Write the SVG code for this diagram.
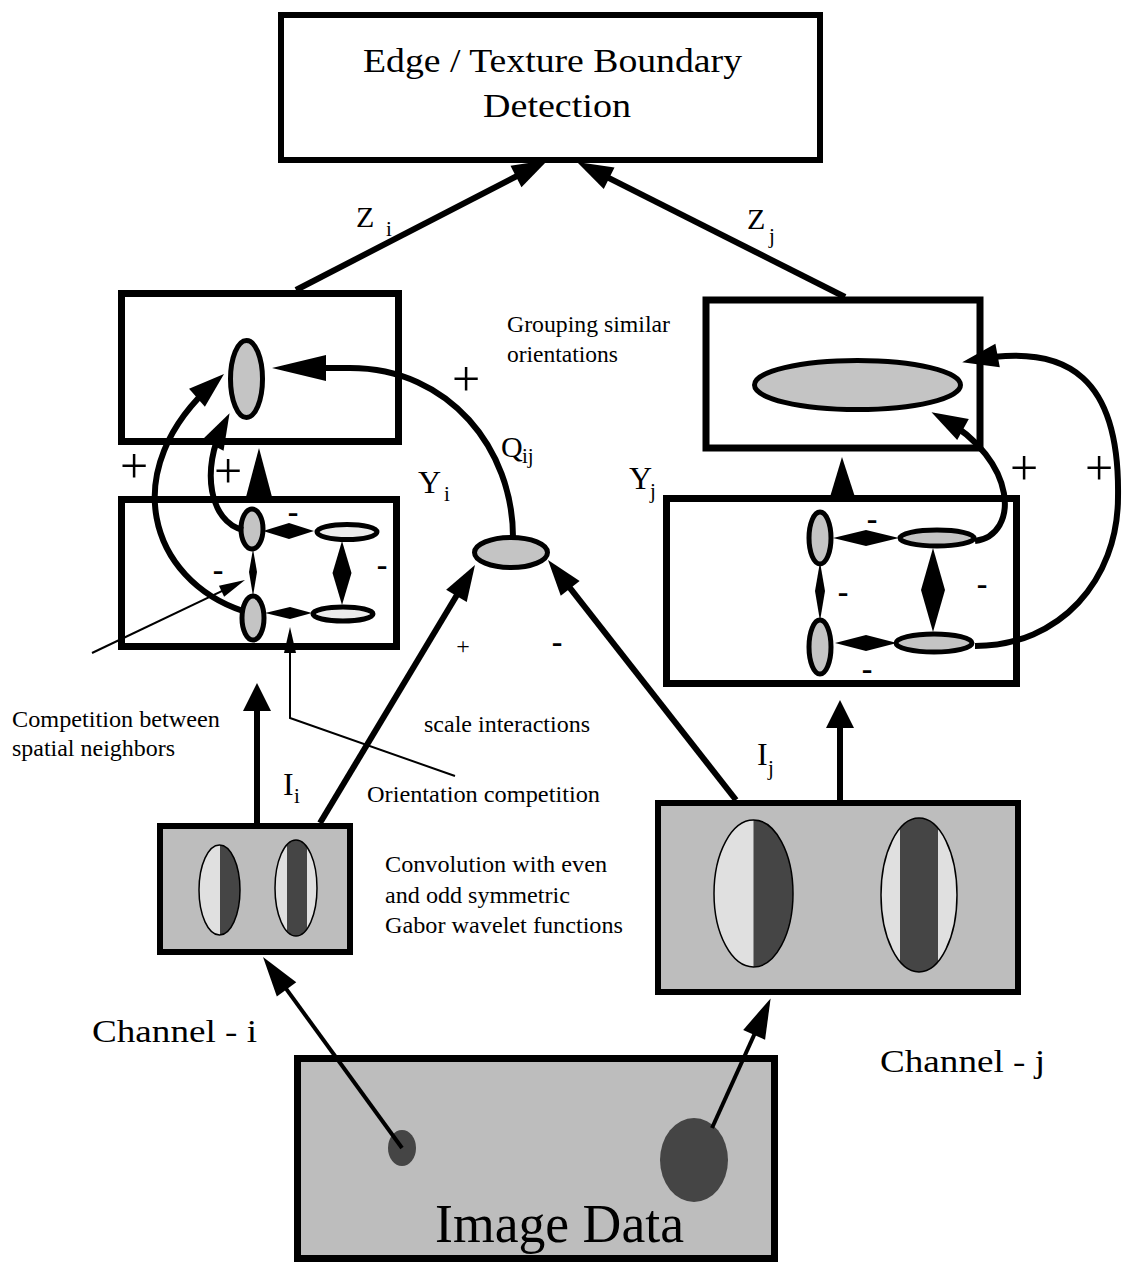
<svg xmlns="http://www.w3.org/2000/svg" width="1125" height="1265" viewBox="0 0 1125 1265">
<style>
text{font-family:"Liberation Serif","Times New Roman",serif;fill:#000}
.box{fill:#fff;stroke:#000;stroke-width:7}
.gbox{fill:#bdbdbd;stroke:#000;stroke-width:6}
.oval{fill:#c4c4c4;stroke:#000;stroke-width:5}
.ovalw{fill:#ececec;stroke:#000;stroke-width:5}
.conn{fill:none;stroke:#000;stroke-width:6}
.chan{fill:none;stroke:#000;stroke-width:4}
.thin{fill:none;stroke:#000;stroke-width:2}
.dia{fill:#000}
.light{fill:#e0e0e0}
.dark{fill:#454545}
.gout{fill:none;stroke:#000;stroke-width:1.5}
.lbl{font-size:24px}
.big{font-size:32px}
.sub{font-size:21px}
.plus{font-size:50px;text-anchor:middle}
.minus{font-size:32px;font-weight:bold;text-anchor:middle}
</style>
<defs>
<marker id="ah" viewBox="-30 -16 46 32" markerWidth="46" markerHeight="32" refX="0" refY="0" orient="auto" markerUnits="userSpaceOnUse"><path d="M12,0 L-24,-12 L-24,12 Z"/></marker>
<marker id="ahL" viewBox="-46 -16 62 32" markerWidth="62" markerHeight="32" refX="0" refY="0" orient="auto" markerUnits="userSpaceOnUse"><path d="M12,0 L-42,-13 L-42,13 Z"/></marker>
<marker id="ahI" viewBox="-20 -16 36 32" markerWidth="36" markerHeight="32" refX="0" refY="0" orient="auto" markerUnits="userSpaceOnUse"><path d="M12,0 L-16,-14 L-16,14 Z"/></marker>
<marker id="ahC" viewBox="-34 -14 48 28" markerWidth="48" markerHeight="28" refX="0" refY="0" orient="auto" markerUnits="userSpaceOnUse"><path d="M10,0 L-30,-12 L-30,12 Z"/></marker>
<marker id="ahS" viewBox="-24 -8 32 16" markerWidth="32" markerHeight="16" refX="0" refY="0" orient="auto" markerUnits="userSpaceOnUse"><path d="M6,0 L-20,-6 L-20,6 Z"/></marker>
<clipPath id="c1"><ellipse cx="219.5" cy="890" rx="20.5" ry="45"/></clipPath>
<clipPath id="c2"><ellipse cx="296" cy="888" rx="21" ry="48"/></clipPath>
<clipPath id="c3"><ellipse cx="753.5" cy="893.5" rx="39.5" ry="73.5"/></clipPath>
<clipPath id="c4"><ellipse cx="919" cy="895" rx="38" ry="77"/></clipPath>
</defs>

<g id="top-box">
<rect class="box" x="281" y="15" width="539" height="145" style="stroke-width:6"/>
<text x="363" y="72" style="font-size:34px" textLength="379" lengthAdjust="spacingAndGlyphs">Edge / Texture Boundary</text>
<text x="483" y="117" style="font-size:34px" textLength="148" lengthAdjust="spacingAndGlyphs">Detection</text>
</g>

<g id="left-group-box">
<rect class="box" x="121.5" y="293.5" width="277" height="148"/>
<ellipse class="oval" cx="246.5" cy="379" rx="16" ry="38.5"/>
</g>

<g id="left-comp-box">
<rect class="box" x="121.5" y="499.5" width="275" height="147"/>
<polygon class="dia" points="263,531 289,523 314,531 289,539"/>
<polygon class="dia" points="265,613 290,607 312,613 290,619"/>
<polygon class="dia" points="342,541 351.5,573 342,605 332.5,573"/>
<polygon class="dia" points="253,549 257,572 253,596 249,572"/>
<ellipse class="oval" cx="252" cy="529" rx="11" ry="20"/>
<ellipse class="oval" cx="253" cy="618" rx="11" ry="22"/>
<ellipse class="ovalw" cx="347" cy="532" rx="30" ry="7.5"/>
<ellipse class="ovalw" cx="343" cy="614" rx="30" ry="7"/>
<text class="minus" x="293" y="522">-</text>
<text class="minus" x="382" y="575">-</text>
<text class="minus" x="218" y="580">-</text>
</g>

<g id="right-group-box">
<rect class="box" x="706" y="300" width="274" height="148"/>
<ellipse class="oval" cx="857.5" cy="385" rx="103" ry="24.5"/>
</g>

<g id="right-comp-box">
<rect class="box" x="666.5" y="498.5" width="350" height="185"/>
<polygon class="dia" points="833,538 866,530 899,538 866,546"/>
<polygon class="dia" points="835,643 866,635 897,643 866,651"/>
<polygon class="dia" points="933,548 945,590 933,632 921,590"/>
<polygon class="dia" points="820,562 825,591 820,621 815,591"/>
<ellipse class="oval" cx="820" cy="538" rx="11" ry="26"/>
<ellipse class="oval" cx="820" cy="647" rx="11" ry="27"/>
<ellipse class="oval" cx="937" cy="538" rx="37" ry="8"/>
<ellipse class="oval" cx="934" cy="643" rx="38" ry="9"/>
<text class="minus" x="872" y="529">-</text>
<text class="minus" x="843" y="602">-</text>
<text class="minus" x="982" y="594">-</text>
<text class="minus" x="867" y="679">-</text>
</g>

<g id="q-node">
<ellipse class="oval" cx="511" cy="552.5" rx="36.5" ry="15"/>
</g>

<g id="left-gabor">
<rect class="gbox" x="160" y="826" width="190" height="126"/>
<ellipse class="light" cx="219.5" cy="890" rx="20.5" ry="45"/>
<rect class="dark" x="220" y="845" width="21" height="90" clip-path="url(#c1)"/>
<ellipse class="gout" cx="219.5" cy="890" rx="20.5" ry="45"/>
<ellipse class="light" cx="296" cy="888" rx="21" ry="48"/>
<rect class="dark" x="287" y="840" width="20" height="96" clip-path="url(#c2)"/>
<ellipse class="gout" cx="296" cy="888" rx="21" ry="48"/>
</g>

<g id="right-gabor">
<rect class="gbox" x="658" y="803" width="360" height="189"/>
<ellipse class="light" cx="753.5" cy="893.5" rx="39.5" ry="73.5"/>
<rect class="dark" x="753.5" y="820" width="40" height="148" clip-path="url(#c3)"/>
<ellipse class="gout" cx="753.5" cy="893.5" rx="39.5" ry="73.5"/>
<ellipse class="light" cx="919" cy="895" rx="38" ry="77"/>
<rect class="dark" x="900" y="818" width="38" height="154" clip-path="url(#c4)"/>
<ellipse class="gout" cx="919" cy="895" rx="38" ry="77"/>
</g>

<g id="image-data">
<rect class="gbox" x="297.5" y="1058.5" width="477" height="200" style="stroke-width:7"/>
<ellipse class="dark" cx="402" cy="1148" rx="14" ry="18"/>
<ellipse class="dark" cx="694" cy="1160" rx="34" ry="42"/>
<text x="435" y="1242" style="font-size:54px" textLength="249" lengthAdjust="spacingAndGlyphs">Image Data</text>
</g>

<g id="connectors">
<line class="conn" x1="296" y1="290" x2="537.3" y2="165.5" marker-end="url(#ah)"/>
<line class="conn" x1="845" y1="297" x2="587.7" y2="167.4" marker-end="url(#ah)"/>
<path class="conn" d="M513 537 C513 450 450 368 350 368 L284 368" marker-end="url(#ahL)"/>
<path class="conn" d="M243 611 C150 580 115 470 215 382" marker-end="url(#ah)"/>
<path class="conn" d="M243 530 C210 522 200 470 224 424" marker-end="url(#ah)"/>
<polygon class="dia" points="259,448 246,497 272,497"/>
<path class="conn" d="M975 541 C1020 535 1018 460 942 418" marker-end="url(#ah)"/>
<path class="conn" d="M975 646 C1060 646 1118 580 1118 497 C1120 380 1070 342 974 360" marker-end="url(#ah)"/>
<polygon class="dia" points="842,457 830,497 855,497"/>
<line class="conn" x1="257" y1="823" x2="257" y2="695" marker-end="url(#ahI)"/>
<line class="conn" x1="840" y1="800" x2="840" y2="712" marker-end="url(#ahI)"/>
<line class="conn" x1="320" y1="823" x2="468.8" y2="575.3" marker-end="url(#ah)"/>
<line class="conn" x1="736" y1="800" x2="555.4" y2="569.4" marker-end="url(#ah)"/>
<line class="chan" x1="402" y1="1148" x2="268.9" y2="965.1" marker-end="url(#ahC)"/>
<line class="chan" x1="712" y1="1128" x2="766.5" y2="1007.5" marker-end="url(#ahC)"/>
<line class="thin" x1="92" y1="653" x2="239.6" y2="582.6" marker-end="url(#ahS)"/>
<polyline class="thin" points="455,776 290,718 290,633" marker-end="url(#ahS)"/>
</g>

<g id="labels">
<text class="big" x="356" y="227" style="font-size:30px">Z</text>
<text class="sub" x="386" y="236">i</text>
<text class="big" x="747" y="229" style="font-size:30px">Z</text>
<text class="sub" x="769" y="243">j</text>
<text class="lbl" x="507" y="332" textLength="163" lengthAdjust="spacingAndGlyphs">Grouping similar</text>
<text class="lbl" x="507" y="362" textLength="111" lengthAdjust="spacingAndGlyphs">orientations</text>
<text class="big" x="501" y="457" style="font-size:30px">Q</text>
<text class="sub" x="522" y="463">ij</text>
<text class="big" x="418" y="493">Y</text>
<text class="sub" x="444" y="501">i</text>
<text class="big" x="629" y="489">Y</text>
<text class="sub" x="650" y="498">j</text>
<text class="plus" x="466" y="396">+</text>
<text class="plus" x="134" y="483">+</text>
<text class="plus" x="228" y="488">+</text>
<text class="plus" x="1024" y="485">+</text>
<text class="plus" x="1099" y="485">+</text>
<text x="463" y="654" style="font-size:24px;text-anchor:middle">+</text>
<text class="minus" x="557" y="652">-</text>
<text class="lbl" x="12" y="727" textLength="208" lengthAdjust="spacingAndGlyphs">Competition between</text>
<text class="lbl" x="12" y="756" textLength="163" lengthAdjust="spacingAndGlyphs">spatial neighbors</text>
<text class="lbl" x="424" y="732" textLength="166" lengthAdjust="spacingAndGlyphs">scale interactions</text>
<text class="big" x="283" y="795">I</text>
<text class="sub" x="294" y="803">i</text>
<text class="lbl" x="367" y="802" textLength="233" lengthAdjust="spacingAndGlyphs">Orientation competition</text>
<text class="lbl" x="385" y="872" textLength="222" lengthAdjust="spacingAndGlyphs">Convolution with even</text>
<text class="lbl" x="385" y="903" textLength="185" lengthAdjust="spacingAndGlyphs">and odd symmetric</text>
<text class="lbl" x="385" y="933" textLength="238" lengthAdjust="spacingAndGlyphs">Gabor wavelet functions</text>
<text class="big" x="757" y="765">I</text>
<text class="sub" x="768" y="775">j</text>
<text class="big" x="92" y="1042" textLength="165" lengthAdjust="spacingAndGlyphs">Channel - i</text>
<text class="big" x="880" y="1072" textLength="165" lengthAdjust="spacingAndGlyphs">Channel - j</text>
</g>
</svg>
